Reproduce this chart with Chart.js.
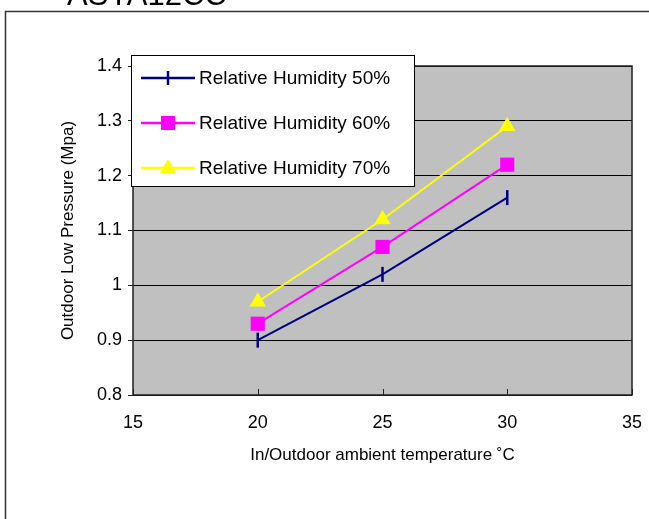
<!DOCTYPE html>
<html lang="en">
<head>
  <meta charset="UTF-8" />
  <title>Outdoor Low Pressure</title>
  <script src="https://cdn.jsdelivr.net/npm/chart.js"></script>
  <style>
    html, body { margin: 0; padding: 0; background: #fff; }
    #wrap { position: relative; width: 649px; height: 519px; }
  </style>
</head>
<body>
  <div id="wrap"><canvas id="chart" width="649" height="519"></canvas></div>

  <script>
    // data
    const pageTitle = "ASYA12CC";
    const temps = [20, 25, 30];
    const rh50 = [0.90, 1.02, 1.16];
    const rh60 = [0.93, 1.07, 1.22];
    const rh70 = [0.97, 1.12, 1.29];
    const seriesLabels = ["Relative Humidity 50%", "Relative Humidity 60%", "Relative Humidity 70%"];
    const xTicks = [15, 20, 25, 30, 35];
    const yTicks = [0.8, 0.9, 1.0, 1.1, 1.2, 1.3, 1.4];

    const FONT = '"Liberation Sans", Arial, sans-serif';
    const toPts = (ys) => temps.map((t, i) => ({ x: t, y: ys[i] }));

    // draws a legend marker like the chart's own points
    function marker(ctx, style, x, y, color) {
      ctx.save();
      ctx.fillStyle = color;
      ctx.strokeStyle = color;
      if (style === "line") {
        ctx.lineWidth = 2.5;
        ctx.beginPath(); ctx.moveTo(x, y - 7); ctx.lineTo(x, y + 7); ctx.stroke();
      } else if (style === "rect") {
        ctx.fillRect(x - 7, y - 7, 14, 14);
      } else {
        ctx.beginPath();
        ctx.moveTo(x, y - 9); ctx.lineTo(x + 8, y + 5); ctx.lineTo(x - 8, y + 5);
        ctx.closePath(); ctx.fill();
      }
      ctx.restore();
    }

    const decor = {
      id: "decor",
      beforeDraw(chart) {
        const { ctx, chartArea: a } = chart;
        ctx.save();
        ctx.fillStyle = "#fff";
        ctx.fillRect(0, 0, chart.width, chart.height);
        // cut-off heading above the frame
        ctx.fillStyle = "#000";
        ctx.font = "31px " + FONT;
        ctx.textBaseline = "alphabetic";
        ctx.fillText(pageTitle, 67, 5);
        // outer frame (right/bottom run off the page)
        ctx.strokeStyle = "#333";
        ctx.lineWidth = 1.5;
        ctx.strokeRect(5.5, 11.5, 900, 900);
        // plot background
        ctx.fillStyle = "#c0c0c0";
        ctx.fillRect(a.left, a.top, a.width, a.height);
        ctx.restore();
      },
      afterDraw(chart) {
        const { ctx, chartArea: a } = chart;
        const xs = chart.scales.x;
        ctx.save();
        ctx.strokeStyle = "#222";
        ctx.lineWidth = 1.5;
        ctx.strokeRect(a.left, a.top, a.width, a.height);
        // inward tick marks on the x axis
        ctx.lineWidth = 1;
        xs.ticks.forEach(t => {
          const px = Math.round(xs.getPixelForValue(t.value)) + 0.5;
          ctx.beginPath(); ctx.moveTo(px, a.bottom); ctx.lineTo(px, a.bottom - 6); ctx.stroke();
        });
        // legend box
        const bx = 131, by = 55, bw = 283, bh = 131;
        ctx.fillStyle = "#fff";
        ctx.fillRect(bx, by, bw, bh);
        ctx.strokeStyle = "#000";
        ctx.lineWidth = 1;
        ctx.strokeRect(bx + 0.5, by + 0.5, bw, bh);
        ctx.font = "19px " + FONT;
        ctx.textBaseline = "middle";
        chart.data.datasets.forEach((ds, i) => {
          const y = 78 + i * 45;
          ctx.strokeStyle = ds.borderColor;
          ctx.lineWidth = 2.5;
          ctx.beginPath(); ctx.moveTo(141, y); ctx.lineTo(195, y); ctx.stroke();
          marker(ctx, ds.pointStyle, 168, y, ds.borderColor);
          ctx.fillStyle = "#000";
          ctx.fillText(ds.label, 199, y + 1);
        });
        ctx.restore();
      }
    };

    new Chart(document.getElementById("chart"), {
      type: "line",
      data: {
        datasets: [
          { label: seriesLabels[0], data: toPts(rh50), borderColor: "#000080", backgroundColor: "#000080",
            borderWidth: 2, pointStyle: "line", rotation: 90, pointRadius: 7.5, pointBorderWidth: 2.5 },
          { label: seriesLabels[1], data: toPts(rh60), borderColor: "#ff00ff", backgroundColor: "#ff00ff",
            borderWidth: 2, pointStyle: "rect", pointRadius: 10, pointBorderWidth: 0 },
          { label: seriesLabels[2], data: toPts(rh70), borderColor: "#ffff00", backgroundColor: "#ffff00",
            borderWidth: 2, pointStyle: "triangle", pointRadius: 9.5, pointBorderWidth: 0 }
        ]
      },
      options: {
        responsive: false,
        animation: false,
        layout: { padding: { left: 6, right: 17, top: 66, bottom: 44 } },
        plugins: { legend: { display: false }, tooltip: { enabled: false } },
        scales: {
          x: {
            type: "linear",
            min: xTicks[0], max: xTicks[xTicks.length - 1],
            afterBuildTicks: s => { s.ticks = xTicks.map(v => ({ value: v })); },
            afterFit: s => { s.height = 80; s.paddingLeft = 0; s.paddingRight = 0; },
            grid: { display: false },
            border: { display: false },
            ticks: { color: "#000", font: { family: FONT, size: 18 }, padding: 9, maxRotation: 0 },
            title: { display: true, text: "In/Outdoor ambient temperature ˚C", color: "#000",
                     font: { family: FONT, size: 17 }, padding: { top: 0, bottom: 9 } }
          },
          y: {
            min: yTicks[0], max: yTicks[yTicks.length - 1],
            afterBuildTicks: s => { s.ticks = yTicks.map(v => ({ value: v })); },
            afterFit: s => { s.width = 127; s.paddingTop = 0; s.paddingBottom = 0; },
            grid: { color: "#000", lineWidth: 1, tickLength: 5, tickColor: "#222" },
            border: { display: false },
            ticks: { color: "#000", font: { family: FONT, size: 18 }, padding: 6,
                     callback: v => String(+v.toFixed(1)) },
            title: { display: true, text: "Outdoor Low Pressure (Mpa)", color: "#000",
                     font: { family: FONT, size: 17 }, padding: { top: 52, bottom: 0 } }
          }
        }
      },
      plugins: [decor]
    });
  </script>
</body>
</html>
